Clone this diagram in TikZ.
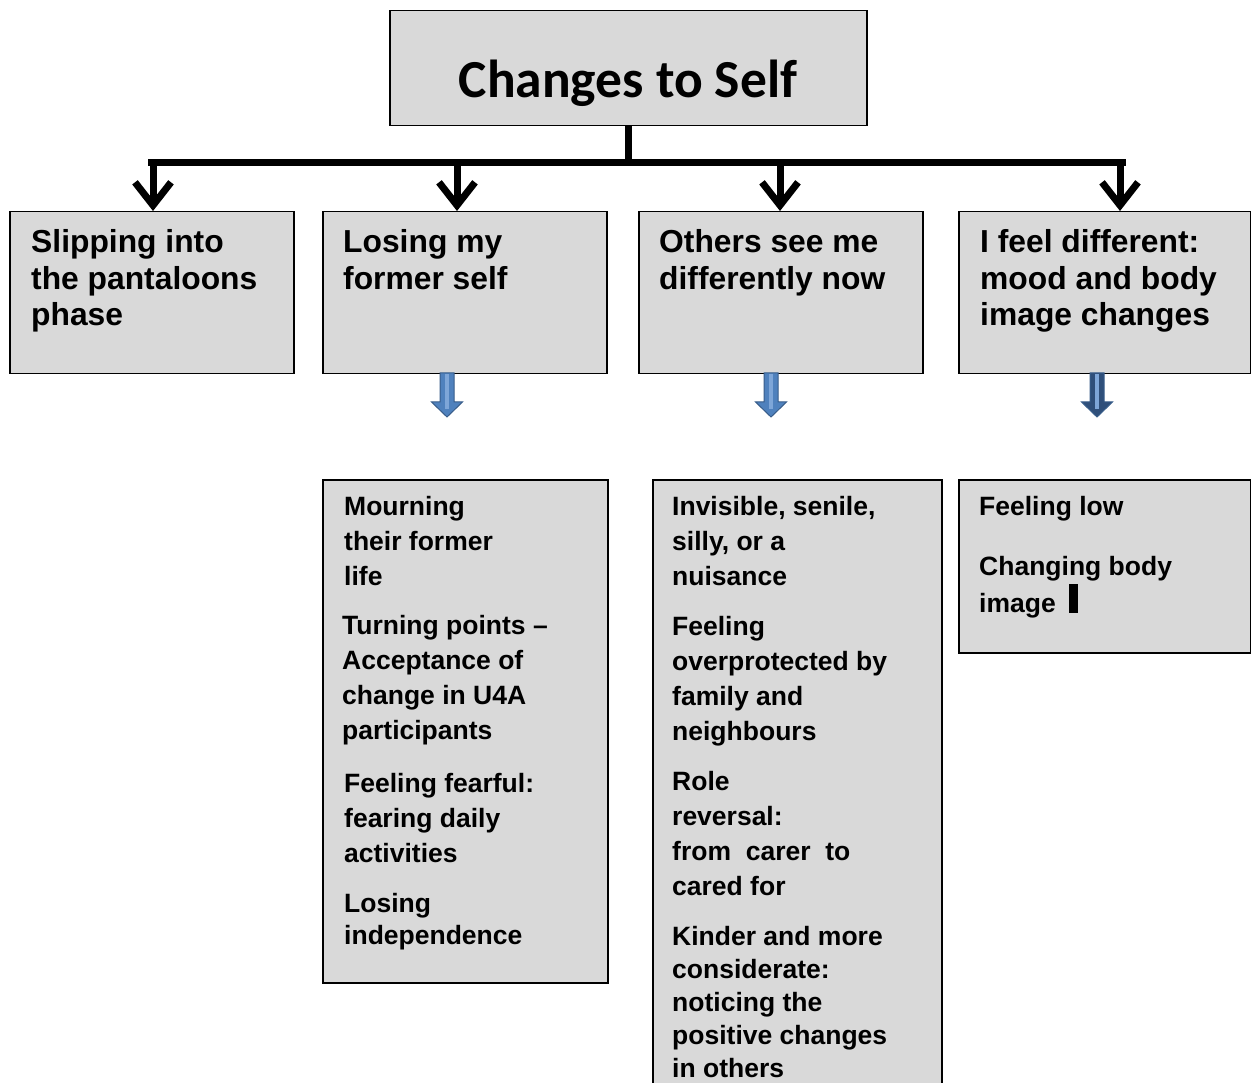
\documentclass[tikz,border=0pt]{standalone}
\usepackage{fontspec}
\setmainfont{Liberation Sans}
\newfontfamily\titlefont{Carlito}
\usetikzlibrary{arrows.meta,calc}
\definecolor{boxgray}{HTML}{D9D9D9}
\definecolor{arrblue}{HTML}{4F81BD}
\definecolor{arrdark}{HTML}{385D8A}
\definecolor{arrlight}{HTML}{7EA6D8}
\definecolor{arrnavy}{HTML}{2F4F7A}
\begin{document}
\begin{tikzpicture}[x=1pt,y=-1pt,
  box/.style={draw=black, line width=1.5pt, fill=boxgray, anchor=north west, inner sep=0pt},
  headtxt/.style={anchor=base west, align=left, inner sep=0pt, font=\fontsize{31.8}{36.5}\selectfont\bfseries},
  bodytxt/.style={anchor=base west, align=left, inner sep=0pt, font=\fontsize{26.5}{35}\selectfont\bfseries},
  conn/.style={line width=7pt},
  down/.style={line width=7pt, -{Straight Barb[length=23pt,width=36pt]}},
  blu/.pic={
    \fill[#1, draw=arrdark, line width=1pt] (-7,0) -- (-7,29) -- (-15.5,29) -- (0,44) -- (15.5,29) -- (7,29) -- (7,0) -- cycle;
    \fill[arrlight] (-2,1) rectangle (2,36);
  },
]
\useasboundingbox (0,0) rectangle (1251,1083);
\fill[white] (0,0) rectangle (1251,1083);

% title
\node[box, minimum width=477pt, minimum height=115pt] (t) at (389,10) {};
\node[font=\titlefont\fontsize{53.5}{60}\selectfont\bfseries, anchor=base, inner sep=0pt] (tt) at (628,98) {Changes to Self};

% level 1 boxes
\node[box, minimum width=284pt, minimum height=162pt] (b1) at (9,211) {};
\node[box, minimum width=284pt, minimum height=162pt] (b2) at (322,211) {};
\node[box, minimum width=284pt, minimum height=162pt] (b3) at (638,211) {};
\node[box, minimum width=292pt, minimum height=162pt] (b4) at (958,211) {};

% (anchor base = baseline of the last line)
\node[headtxt] (h1) at (31,326) {Slipping into\\the pantaloons\\phase};
\node[headtxt] (h2) at (343,289.5) {Losing my\\former self};
\node[headtxt] (h3) at (659,289.5) {Others see me\\differently now};
\node[headtxt] (h4) at (980,326) {I feel different:\\mood and body\\image changes};

% connectors
\coordinate (j) at (t.south |- 0,163);
\coordinate (barL) at (148,163);
\coordinate (barR) at (1126,163);
\draw[conn] (t.south) -- (j);
\draw[conn] (barL) -- (barR);
\coordinate (a1) at (153,163);
\coordinate (a2) at (457,163);
\coordinate (a3) at (780,163);
\coordinate (a4) at (1120,163);
\draw[down] (a1) -- (a1 |- b1.north);
\draw[down] (a2) -- (a2 |- b2.north);
\draw[down] (a3) -- (a3 |- b3.north);
\draw[down] (a4) -- (a4 |- b4.north);

% blue arrows
\pic at (447,373) {blu=arrblue};
\pic at (771,373) {blu=arrblue};
\pic at (1097,373) {blu=arrnavy};

% level 2 boxes
\node[box, minimum width=285pt, minimum height=503pt] (c2) at (322,479) {};
\node[box, minimum width=289pt, minimum height=640pt] (c3) at (652,479) {};
\node[box, minimum width=292pt, minimum height=173pt] (c4) at (958,479) {};

\node[bodytxt] (p1) at (344,585) {Mourning\\their former\\life};
\node[bodytxt] (p2) at (342,739) {Turning points –\\Acceptance of\\change in U4A\\participants};
\node[bodytxt] (p3) at (344,862) {Feeling fearful:\\fearing daily\\activities};
\node[bodytxt, font=\fontsize{26.5}{32}\selectfont\bfseries] (p4) at (344,944) {Losing\\independence};

\node[bodytxt] (q1) at (672,585) {Invisible, senile,\\silly, or a\\nuisance};
\node[bodytxt] (q2) at (672,740) {Feeling\\overprotected by\\family and\\neighbours};
\node[bodytxt] (q3) at (672,895) {Role\\reversal:\\from\ \ carer\ \ to\\cared for};
\node[bodytxt, font=\fontsize{26.5}{33}\selectfont\bfseries] (q4) at (672,1077) {Kinder and more\\considerate:\\noticing the\\positive changes\\in others};

\node[bodytxt] (r1) at (979,515) {Feeling low};
\node[bodytxt, font=\fontsize{26.5}{37}\selectfont\bfseries] (r2) at (979,612) {Changing body\\image};
\fill[black] (1069,584) rectangle (1078,613);
\end{tikzpicture}
\end{document}
